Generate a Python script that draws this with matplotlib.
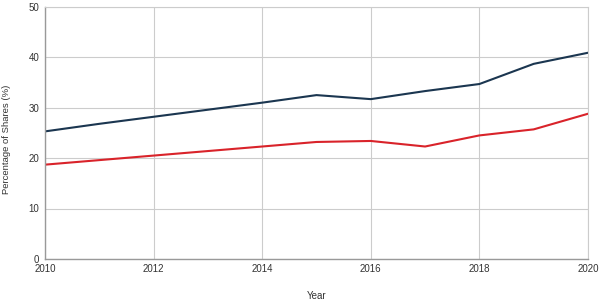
import matplotlib
matplotlib.use('Agg')
import matplotlib.pyplot as plt

years = [2010, 2011, 2012, 2013, 2014, 2015, 2016, 2017, 2018, 2019, 2020]
series_a = [25.3, 26.8, 28.2, 29.6, 31.0, 32.5, 31.7, 33.3, 34.7, 38.7, 40.9]
series_b = [18.7, 19.6, 20.5, 21.4, 22.3, 23.2, 23.4, 22.3, 24.5, 25.7, 28.8]
x_ticks = [2010, 2012, 2014, 2016, 2018, 2020]
y_ticks = [0, 10, 20, 30, 40, 50]

plt.rcParams['font.family'] = ['Liberation Sans', 'DejaVu Sans']

fig = plt.figure(figsize=(6, 3), dpi=100)
ax = fig.add_axes([0.075, 0.137, 0.905, 0.84])

ax.plot(years, series_a, color='#1b3650', linewidth=1.5)
ax.plot(years, series_b, color='#d9232a', linewidth=1.5)

ax.set_xlim(2010, 2020)
ax.set_ylim(0, 50)
ax.set_xticks(x_ticks)
ax.set_yticks(y_ticks)
ax.grid(True, color='#cccccc', linewidth=0.8)
ax.set_axisbelow(True)
ax.tick_params(length=0, labelsize=7, colors='#333333', pad=4)

for side in ('top', 'right'):
    ax.spines[side].set_color('#cccccc')
    ax.spines[side].set_linewidth(0.8)
for side in ('left', 'bottom'):
    ax.spines[side].set_color('#999999')
    ax.spines[side].set_linewidth(1.0)

ax.set_xlabel('Year', fontsize=7, color='#333333', labelpad=12)
ax.set_ylabel('Percentage of Shares (%)', fontsize=6.8, color='#333333')
ax.yaxis.set_label_coords(-0.062, 0.476)

fig.savefig('out.png', dpi=100)
